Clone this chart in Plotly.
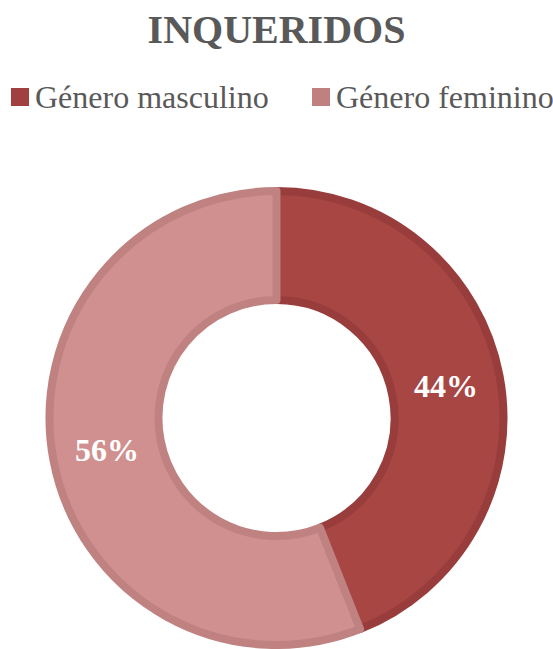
import plotly.graph_objects as go

# Data
labels = ["Género masculino", "Género feminino"]
values = [44, 56]
fill_colors = ["#A84644", "#D09090"]
border_colors = ["#983D3C", "#BF8281"]
legend_colors = ["#A0403F", "#C08080"]

W, H = 553, 649
ML, MR, MT, MB = 49, 49, 191, 4
pw, ph = W - ML - MR, H - MT - MB


def px_x(x):
    return (x - ML) / pw


def px_y(y):
    return (H - MB - y) / ph


fig = go.Figure()
fig.add_trace(go.Pie(
    labels=labels,
    values=values,
    hole=0.52,
    sort=False,
    direction="clockwise",
    rotation=0,
    marker=dict(colors=fill_colors, line=dict(color=border_colors, width=8)),
    textinfo="percent",
    textposition="inside",
    insidetextorientation="horizontal",
    textfont=dict(family="Liberation Serif", size=32, color="white", weight="bold"),
    showlegend=False,
))

# manual legend, bigger squares like the original
legend_x = [11, 312]
for i, lab in enumerate(labels):
    x0 = legend_x[i]
    fig.add_shape(type="rect", xref="paper", yref="paper",
                  x0=px_x(x0), x1=px_x(x0 + 18), y0=px_y(106), y1=px_y(88),
                  fillcolor=legend_colors[i], line=dict(width=0))
    fig.add_annotation(text=lab, xref="paper", yref="paper",
                       x=px_x(x0 + 22), y=px_y(97), xanchor="left", yanchor="middle",
                       showarrow=False,
                       font=dict(family="Liberation Serif", size=32, color="#595959"))

fig.update_layout(
    width=W, height=H,
    margin=dict(l=ML, r=MR, t=MT, b=MB),
    paper_bgcolor="white",
    plot_bgcolor="white",
    title=dict(text="<b>INQUERIDOS</b>", x=0.5, xanchor="center", y=1 - 29 / H, yanchor="middle",
               font=dict(family="Liberation Serif", size=40, color="#595959")),
)

# drop the default page margin so the figure sits at the window's corner
fig.write_html("out.html", config={"displayModeBar": False},
               post_script="document.body.style.margin='0';")
